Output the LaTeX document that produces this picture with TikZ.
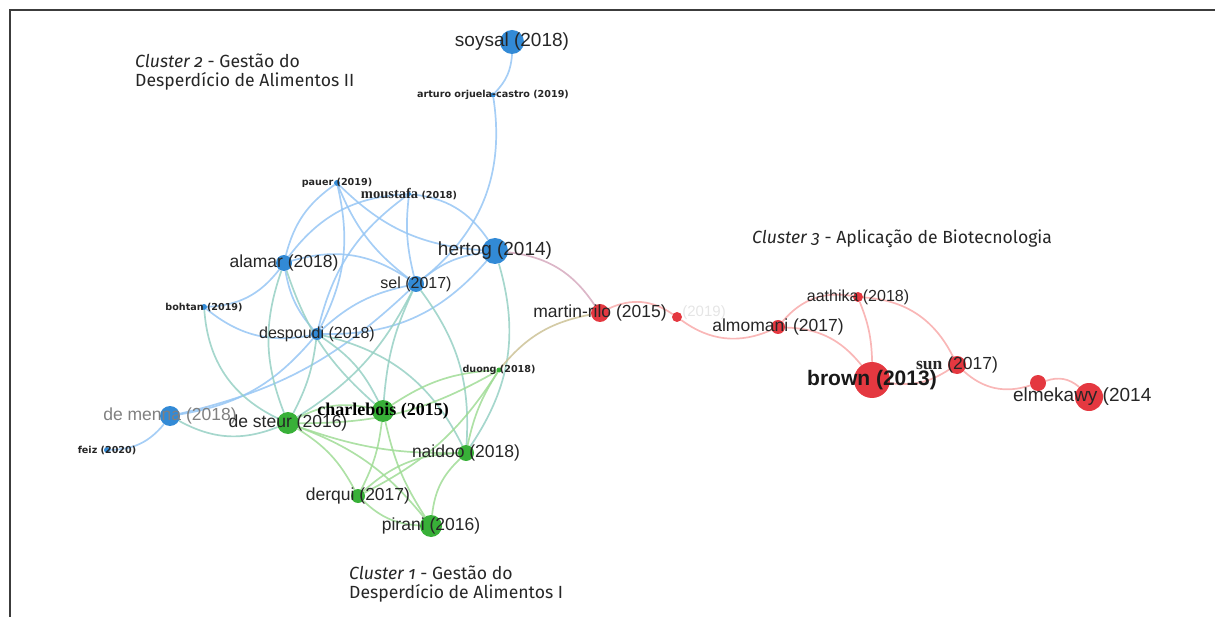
\documentclass[tikz,border=0pt]{standalone}
\usepackage{fontspec}
\usepackage{xcolor}
\usetikzlibrary{backgrounds}

\newfontfamily\netfont{Liberation Sans}
\newfontfamily\netserif{Liberation Serif}
\newfontfamily\tinyfont{DejaVu Sans}
\newfontfamily\clusterfont{Fira Sans}[Numbers=OldStyle]

\definecolor{dotblue}{RGB}{50,138,214}
\definecolor{dotgreen}{RGB}{56,176,56}
\definecolor{dotred}{RGB}{228,56,64}
\definecolor{edgeblue}{RGB}{150,198,244}
\definecolor{edgegreen}{RGB}{160,220,150}
\definecolor{edgered}{RGB}{248,170,170}
\definecolor{edgeteal}{RGB}{150,208,196}
\definecolor{edgemauve}{RGB}{214,170,190}
\definecolor{edgeolive}{RGB}{204,194,150}
\definecolor{labelgray}{RGB}{38,38,38}
\definecolor{framegray}{RGB}{60,60,60}

\begin{document}
\begin{tikzpicture}[
			x=1pt, y=-1pt,
			paper/.style={
				circle,
				inner sep=0pt,
				draw=none
			},
			bluepaper/.style={paper, fill=dotblue},
			greenpaper/.style={paper, fill=dotgreen},
			redpaper/.style={paper, fill=dotred},
			biglabel/.style={
				font=\netfont\fontsize{19}{21}\selectfont,
				text=labelgray,
				inner sep=0pt
			},
			midlabel/.style={
				font=\netfont\fontsize{17.5}{20}\selectfont,
				text=labelgray,
				inner sep=0pt
			},
			smalllabel/.style={
				font=\netfont\fontsize{16}{18}\selectfont,
				text=labelgray,
				inner sep=0pt
			},
			tinylabel/.style={
				font=\tinyfont\bfseries\fontsize{9.6}{11}\selectfont,
				text=labelgray,
				inner sep=0pt
			},
			caption/.style={
				font=\clusterfont\fontsize{17.6}{18.5}\selectfont,
				text=labelgray,
				align=left,
				anchor=north west,
				inner sep=0pt
			},
			link/.style={
				line width=1.7pt,
				opacity=0.85
			},
			bluelink/.style={link, draw=edgeblue},
			greenlink/.style={link, draw=edgegreen},
			tealink/.style={link, draw=edgeteal},
			redlink/.style={link, draw=edgered}
			]
			
			\useasboundingbox (0,0) rectangle (1215,617);
			\draw[line width=1.5pt, framegray] (10,617) -- (10,10) -- (1215,10);
			
			%=====================================================================
			% Cluster 2 (blue)
			%=====================================================================
			
			\node[bluepaper, minimum size=24, label={[biglabel]center:soysal (2018)}] (soysal) at (512,42) {};
			\node[bluepaper, minimum size=5, label={[tinylabel]center:arturo orjuela-castro (2019)}] (arturo) at (493,95) {};
			\node[bluepaper, minimum size=6, label={[tinylabel]center:pauer (2019)}] (pauer) at (337,183) {};
			\node[bluepaper, minimum size=4, label={[tinylabel]center:{\netserif\fontsize{14.5}{15}\selectfont moustafa} (2018)}] (moustafa) at (409,194) {};
			\node[bluepaper, minimum size=16, label={[midlabel]center:alamar (2018)}] (alamar) at (284,263) {};
			\node[bluepaper, minimum size=26, label={[biglabel]center:hertog (2014)}] (hertog) at (495,251) {};
			\node[bluepaper, minimum size=16, label={[smalllabel]center:sel (2017)}] (sel) at (416,284) {};
			\node[bluepaper, minimum size=6, label={[tinylabel]center:bohtan (2019)}] (bohtan) at (204,307) {};
			\node[bluepaper, minimum size=12, label={[smalllabel]center:despoudi (2018)}] (despoudi) at (317,334) {};
			\node[bluepaper, minimum size=20, label={[midlabel, text=black!50]center:de menna (2018)}] (demenna) at (170,416) {};
			\node[bluepaper, minimum size=6, label={[tinylabel]center:feiz (2020)}] (feiz) at (107,450) {};
			
			%=====================================================================
			% Cluster 1 (green)
			%=====================================================================
			
			\node[greenpaper, minimum size=22, label={[midlabel]center:de steur (2016)}] (desteur) at (288,423) {};
			\node[greenpaper, minimum size=22, label={[font=\netserif\bfseries\fontsize{18}{20}\selectfont, text=black, inner sep=0pt]center:charlebois (2015)}] (charlebois) at (383,411) {};
			\node[greenpaper, minimum size=16, label={[midlabel]center:naidoo (2018)}] (naidoo) at (466,453) {};
			\node[greenpaper, minimum size=14, label={[midlabel]center:derqui (2017)}] (derqui) at (358,496) {};
			\node[greenpaper, minimum size=22, label={[midlabel]center:pirani (2016)}] (pirani) at (431,526) {};
			\node[greenpaper, minimum size=5, label={[tinylabel]center:duong (2018)}] (duong) at (499,370) {};
			
			%=====================================================================
			% Cluster 3 (red)
			%=====================================================================
			
			\node[redpaper, minimum size=18, label={[midlabel]center:martin-rilo (2015)}] (martinrilo) at (600,313) {};
			\node[redpaper, minimum size=10, label={[smalllabel, font=\netfont\fontsize{15}{16}\selectfont, text=black!10, anchor=west, yshift=4pt]east:(2019)}] (redsmall) at (677,317) {};
			\node[redpaper, minimum size=14, label={[midlabel]center:almomani (2017)}] (almomani) at (778,327) {};
			\node[redpaper, minimum size=10, label={[smalllabel]center:aathika (2018)}] (aathika) at (858,297) {};
			\node[redpaper, minimum size=36, label={[font=\netfont\bfseries\fontsize{21}{23}\selectfont, text=black!90, inner sep=0pt]center:brown (2013)}] (brown) at (872,380) {};
			\node[redpaper, minimum size=18, label={[midlabel]center:{\netserif\bfseries sun} (2017)}] (sun) at (957,365) {};
			\node[redpaper, minimum size=16] (redsmalltwo) at (1038,383) {};
			\node[redpaper, minimum size=28, label={[biglabel, anchor=west]west:{\hspace{-62pt}elmekawy (2014}}] (elmekawy) at (1089,397) {};
			
			%=====================================================================
			% Links
			%=====================================================================
			
			\begin{scope}[on background layer]
				% blue links
				\draw[bluelink] (soysal) to[bend left=20] (arturo);
				\draw[bluelink] (arturo) to[bend left=30] (sel);
				\draw[bluelink] (pauer) to[bend right=20] (alamar);
				\draw[bluelink] (pauer) to[bend left=20] (despoudi);
				\draw[bluelink] (pauer) to[bend right=15] (sel);
				\draw[bluelink] (pauer) to[bend right=20] (hertog);
				\draw[bluelink] (moustafa) to[bend right=25] (alamar);
				\draw[bluelink] (moustafa) to[bend left=25] (hertog);
				\draw[bluelink] (moustafa) to[bend right=10] (sel);
				\draw[bluelink] (moustafa) to[bend right=20] (despoudi);
				\draw[bluelink] (alamar) to[bend left=25] (sel);
				\draw[bluelink] (alamar) to[bend right=15] (despoudi);
				\draw[bluelink] (alamar) to[bend left=25] (bohtan);
				\draw[bluelink] (bohtan) to[bend right=25] (despoudi);
				\draw[bluelink] (sel) to[bend left=15] (hertog);
				\draw[bluelink] (sel) to[bend right=15] (despoudi);
				\draw[bluelink] (despoudi) to[bend right=25] (hertog);
				\draw[bluelink] (despoudi) to[bend left=20] (demenna);
				\draw[bluelink] (demenna) to[bend left=25] (feiz);
				\draw[bluelink] (demenna) to[bend right=15] (sel);
				% blue-green links
				\draw[tealink] (alamar) to[bend right=20] (desteur);
				\draw[tealink] (alamar) to[bend right=15] (charlebois);
				\draw[tealink] (bohtan) to[bend right=30] (desteur);
				\draw[tealink] (despoudi) to[bend left=10] (desteur);
				\draw[tealink] (despoudi) to[bend left=15] (charlebois);
				\draw[tealink] (despoudi) to[bend left=25] (naidoo);
				\draw[tealink] (sel) to[bend left=15] (desteur);
				\draw[tealink] (sel) to[bend right=10] (charlebois);
				\draw[tealink] (sel) to[bend left=20] (naidoo);
				\draw[tealink] (hertog) to[bend left=25] (naidoo);
				\draw[tealink] (demenna) to[bend right=25] (desteur);
				% green links
				\draw[greenlink] (desteur) to[bend left=20] (charlebois);
				\draw[greenlink] (desteur) to[bend right=10] (naidoo);
				\draw[greenlink] (desteur) to[bend left=15] (derqui);
				\draw[greenlink] (desteur) to[bend left=15] (pirani);
				\draw[greenlink] (desteur) to[bend right=15] (duong);
				\draw[greenlink] (charlebois) to[bend left=10] (derqui);
				\draw[greenlink] (charlebois) to[bend right=10] (pirani);
				\draw[greenlink] (charlebois) to[bend left=15] (duong);
				\draw[greenlink] (naidoo) to[bend right=20] (derqui);
				\draw[greenlink] (naidoo) to[bend right=20] (pirani);
				\draw[greenlink] (naidoo) to[bend left=10] (duong);
				\draw[greenlink] (derqui) to[bend right=20] (pirani);
				\draw[greenlink] (derqui) to[bend right=15] (duong);
				% links between clusters
				\draw[link, draw=edgemauve] (hertog) to[bend left=25] (martinrilo);
				\draw[link, draw=edgeolive] (duong) to[bend left=20] (martinrilo);
				% red links
				\draw[redlink] (martinrilo) to[bend left=30] (redsmall);
				\draw[redlink] (redsmall) to[bend right=30] (almomani);
				\draw[redlink] (almomani) to[bend left=30] (aathika);
				\draw[redlink] (almomani) to[bend left=25] (brown);
				\draw[redlink] (aathika) to[bend left=10] (brown);
				\draw[redlink] (aathika) to[bend left=30] (sun);
				\draw[redlink] (brown) to[bend right=20] (sun);
				\draw[redlink] (sun) to[bend right=30] (redsmalltwo);
				\draw[redlink] (redsmalltwo) to[bend left=30] (elmekawy);
			\end{scope}
			
			%=====================================================================
			% Cluster captions
			%=====================================================================
			
			\node[caption] (captwo) at (135,54)
			{\textit{Cluster 2} - Gestão do\\Desperdício de Alimentos II};
			
			\node[caption] (capone) at (349,566)
			{\textit{Cluster 1} - Gestão do\\Desperdício de Alimentos I};
			
			\node[caption] (capthree) at (752,230)
			{\textit{Cluster 3} - Aplicação de Biotecnologia};
			
		\end{tikzpicture}
\end{document}
